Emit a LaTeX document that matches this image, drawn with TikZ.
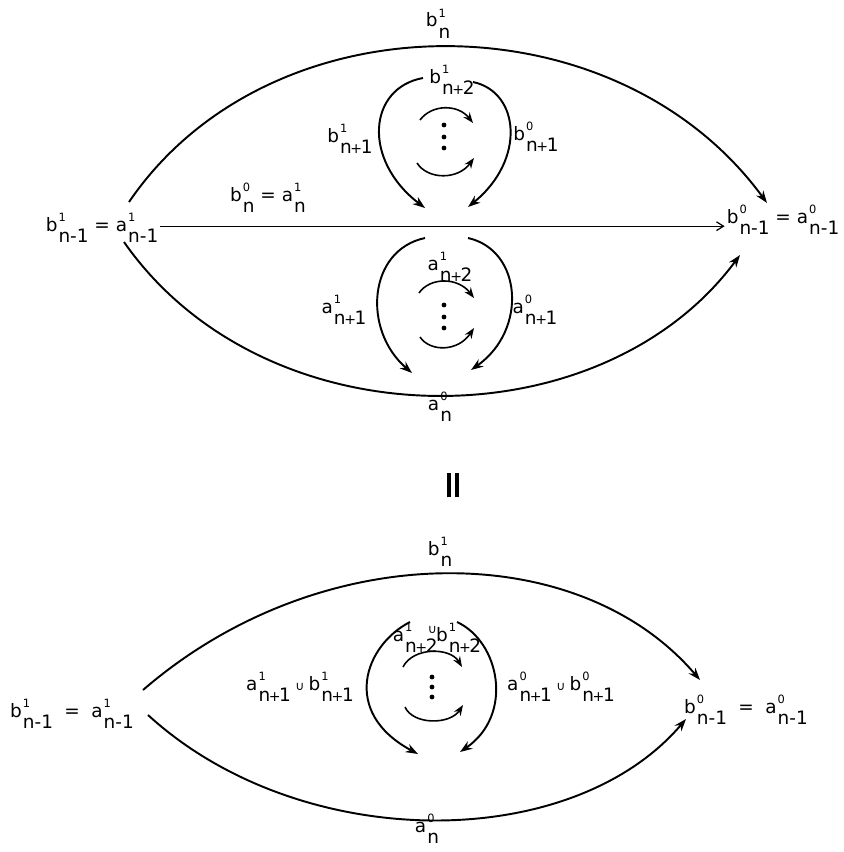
\documentclass[tikz,border=0pt]{standalone}
\usepackage{fontspec}
\setmainfont{DejaVu Sans}
\usetikzlibrary{arrows.meta}
% letter with stacked upper index and full-size lower index
\newcommand{\sy}[3]{#1\kern.6pt\makebox[0pt][l]{\raisebox{5.5pt}{\fontsize{6.5}{7}\selectfont#2}}\raisebox{-6.3pt}{#3}}
\newcommand{\pl}{{\kern-.8pt\fontsize{8}{8}\selectfont+\kern-.8pt}}
\newcommand{\un}{\kern2.5pt{\fontsize{7}{7}\selectfont∪}\kern2.5pt}

\begin{document}
\begin{tikzpicture}[x=0.02cm, y=-0.02cm,
  every node/.style={font=\fontsize{10.5}{12}\selectfont, inner sep=1pt, anchor=base},
  arc/.style={line width=1.1pt, -{Stealth[length=7pt,width=5pt]}},
  twirl/.style={line width=0.9pt, -{Stealth[length=6pt,width=4.5pt]}},
  flat/.style={line width=0.7pt, -{Straight Barb[length=4pt,width=5pt]}}
]
\useasboundingbox (0,0) rectangle (843,852);

% upper diagram
\node (L) at (102,231) {\sy{b}{1}{n-1} = \sy{a}{1}{n-1}};
\node (R) at (783,223) {\sy{b}{0}{n-1} = \sy{a}{0}{n-1}};
\node (bn) at (438,27) {\sy{b}{1}{n}};
\node (an) at (440,410) {\sy{a}{0}{n}};
\node (mid) at (268,201) {\sy{b}{0}{n} = \sy{a}{1}{n}};
\node (bt) at (452,83) {\sy{b}{1}{n\pl2}};
\node (bl) at (350,142) {\sy{b}{1}{n\pl1}};
\node (br) at (536,140) {\sy{b}{0}{n\pl1}};
\node (at) at (450,270) {\sy{a}{1}{n\pl2}};
\node (al) at (344,313) {\sy{a}{1}{n\pl1}};
\node (ar) at (535,313) {\sy{a}{0}{n\pl1}};

\coordinate (tA) at (129,202);  \coordinate (tB) at (767,203);
\coordinate (uA) at (124,242);  \coordinate (uB) at (740,255);
\draw[arc] (tA) .. controls (270,-5) and (615,-5) .. (tB);
\draw[arc] (uA) .. controls (265,444) and (600,444) .. (uB);
\draw[flat] (L.mid east) -- (L.mid east -| R.west);

% b loops
\coordinate (b1) at (423,78);  \coordinate (b2) at (425,208);
\coordinate (b3) at (473,82);  \coordinate (b4) at (468,207);
\draw[arc] (b1) .. controls (368,88) and (362,160) .. (b2);
\draw[arc] (b3) .. controls (520,92) and (526,160) .. (b4);
\coordinate (b5) at (420,120); \coordinate (b6) at (473,123);
\coordinate (b7) at (417,163); \coordinate (b8) at (474,158);
\draw[twirl] (b5) .. controls (432,104) and (458,104) .. (b6);
\draw[twirl] (b7) .. controls (428,180) and (458,180) .. (b8);
\foreach \y in {125,137,148} \fill (444,\y) circle (2.4);

% a loops
\coordinate (a1) at (425,238); \coordinate (a2) at (412,373);
\coordinate (a3) at (468,238); \coordinate (a4) at (471,370);
\draw[arc] (a1) .. controls (368,250) and (362,330) .. (a2);
\draw[arc] (a3) .. controls (522,250) and (528,330) .. (a4);
\coordinate (a5) at (419,293); \coordinate (a6) at (474,298);
\coordinate (a7) at (420,337); \coordinate (a8) at (474,328);
\draw[twirl] (a5) .. controls (430,277) and (458,277) .. (a6);
\draw[twirl] (a7) .. controls (430,352) and (458,352) .. (a8);
\foreach \y in {305,317,328} \fill (444,\y) circle (2.4);

\node[anchor=center] (eq) at (453,485) {\rule{2.3pt}{14pt}\kern1.8pt\rule{2.3pt}{14pt}};

% lower diagram
\node (L2) at (72,717) {\sy{b}{1}{n-1}\hspace{6.5pt}=\hspace{6.5pt}\sy{a}{1}{n-1}};
\node (R2) at (746,713) {\sy{b}{0}{n-1}\hspace{6.5pt}=\hspace{6.5pt}\sy{a}{0}{n-1}};
\node (bn2) at (440,555) {\sy{b}{1}{n}};
\node (an2) at (427,832) {\sy{a}{0}{n}};
\node (ct) at (437,641) {\sy{a}{1}{n\pl2}\kern-8pt\raisebox{4pt}{\un}\kern-3pt\sy{b}{1}{n\pl2}};
\node (cl) at (300,690) {\sy{a}{1}{n\pl1}\un\sy{b}{1}{n\pl1}};
\node (cr) at (561,690) {\sy{a}{0}{n\pl1}\un\sy{b}{0}{n\pl1}};

\coordinate (sA) at (143,690); \coordinate (sB) at (700,680);
\coordinate (vA) at (148,715); \coordinate (vB) at (686,719);
\draw[arc] (sA) .. controls (320,537) and (578,537) .. (sB);
\draw[arc] (vA) .. controls (300,854) and (571,854) .. (vB);

\coordinate (c1) at (410,622); \coordinate (c2) at (418,754);
\coordinate (c3) at (457,622); \coordinate (c4) at (460,752);
\draw[arc] (c1) .. controls (365,645) and (340,712) .. (c2);
\draw[arc] (c3) .. controls (500,642) and (514,715) .. (c4);
\coordinate (c5) at (403,667); \coordinate (c6) at (462,667);
\coordinate (c7) at (405,707); \coordinate (c8) at (463,705);
\draw[twirl] (c5) .. controls (413,647) and (450,647) .. (c6);
\draw[twirl] (c7) .. controls (413,725) and (450,725) .. (c8);
\foreach \y in {677,687,697} \fill (432,\y) circle (2.4);
\end{tikzpicture}
\end{document}
